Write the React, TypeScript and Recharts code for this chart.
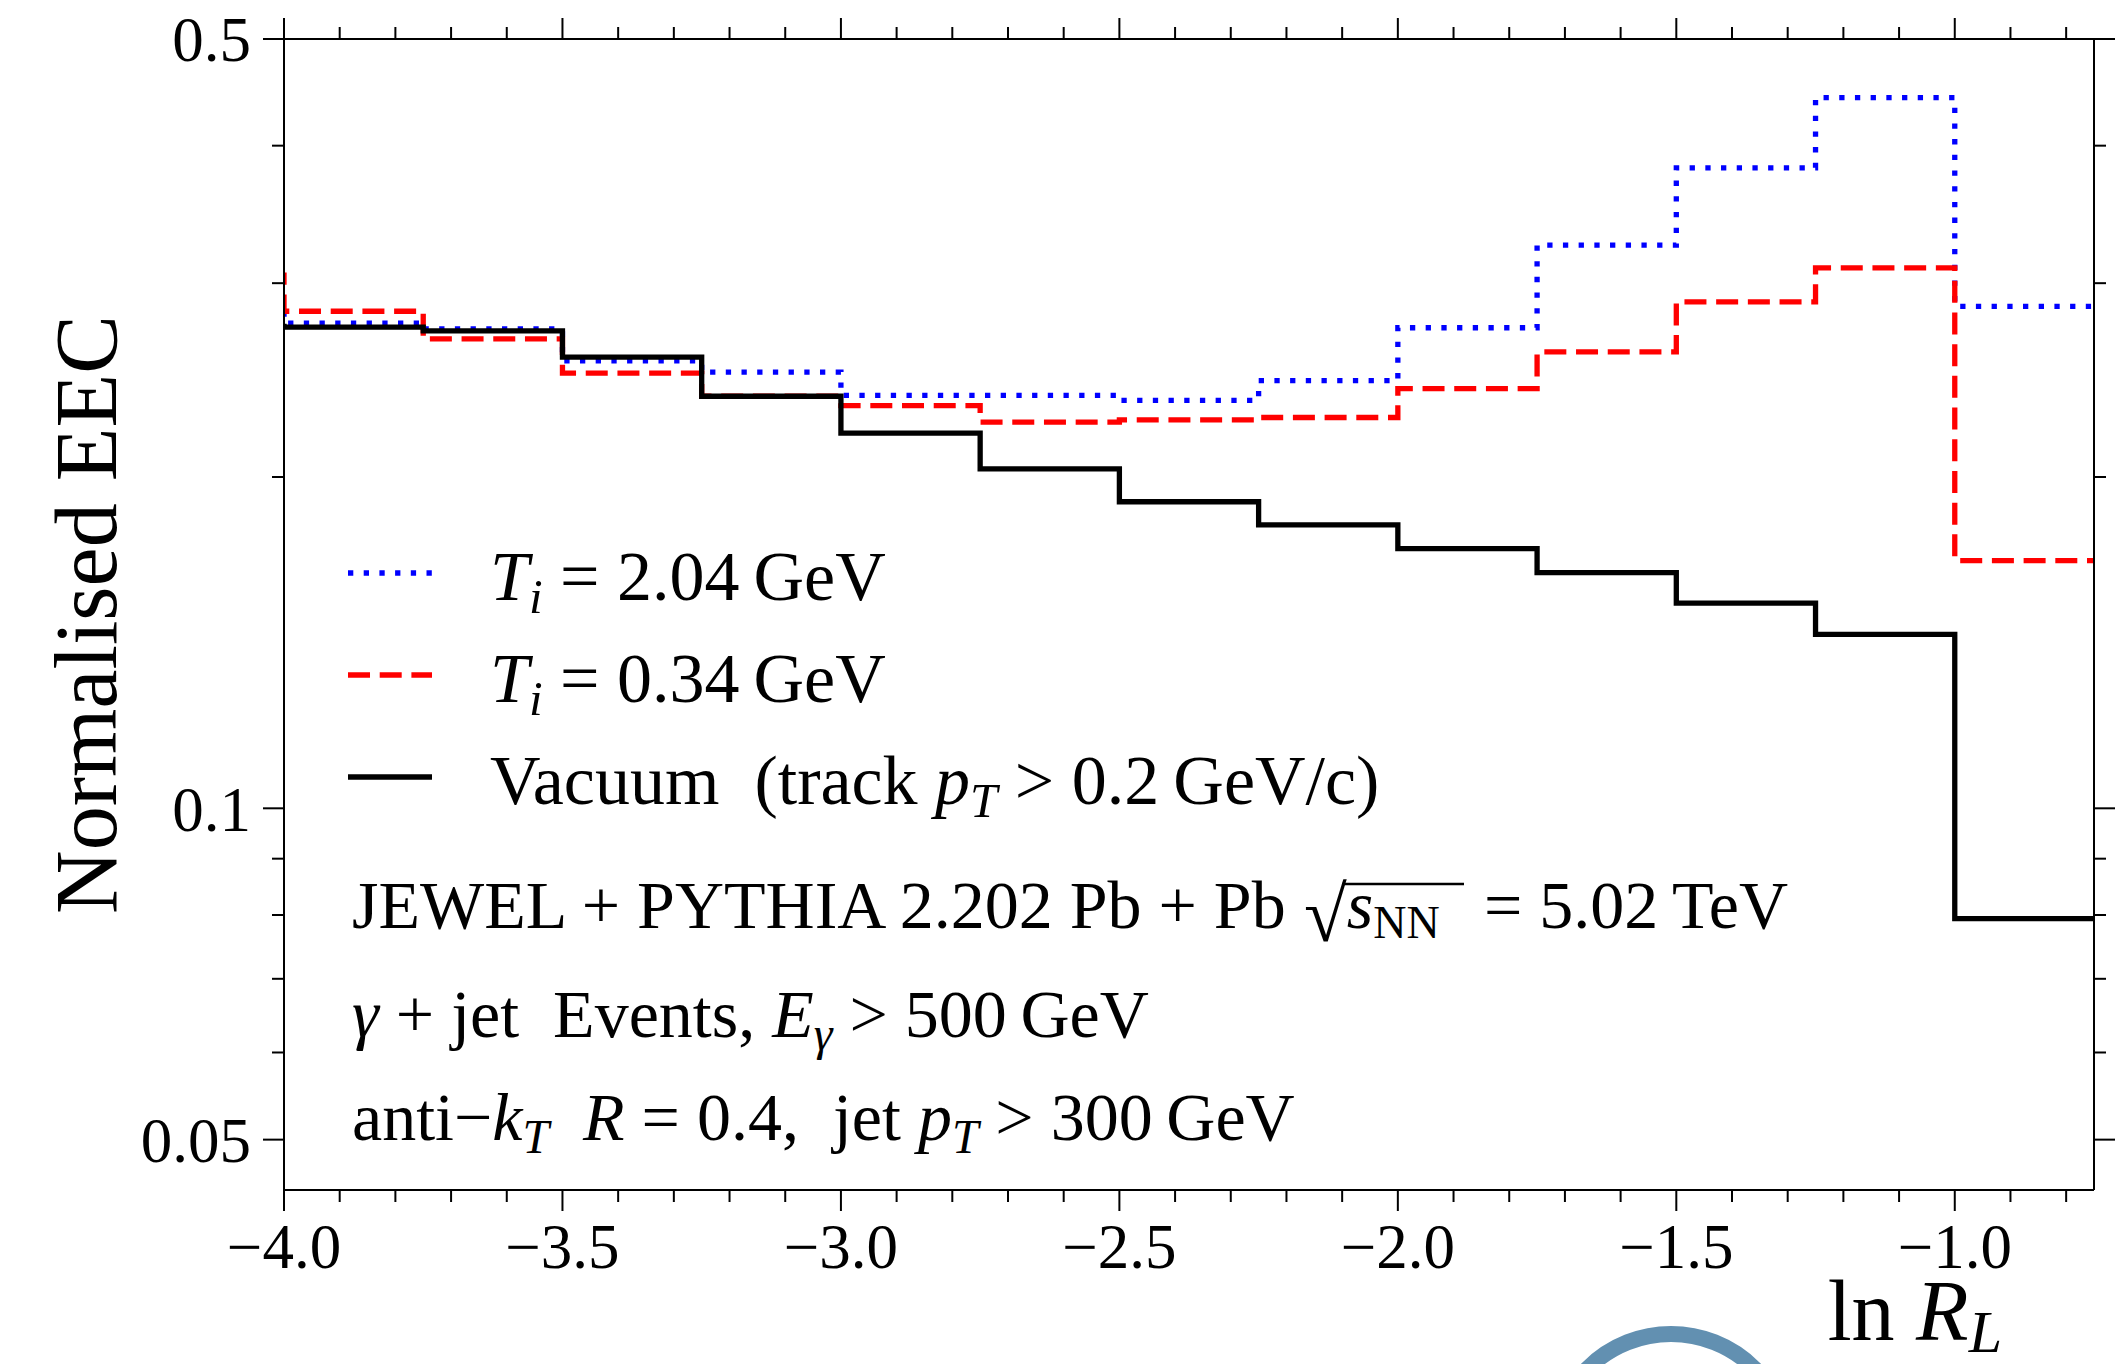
import React from "react";
import { LineChart, Line, XAxis, YAxis, Legend, Customized } from "recharts";

const W = 2127;
const H = 1364;
const FONT = '"Liberation Serif", "DejaVu Serif", serif';

// bin edges in ln R_L; the first edge is left of the frame, only its step shows at x = -4
const lnRL = [-4.25, -4.0, -3.75, -3.5, -3.25, -3.0, -2.75, -2.5, -2.25, -2.0, -1.75, -1.5, -1.25, -1.0, -0.75];

// normalised EEC per bin
const eecT204 = [0.284, 0.276, 0.2726, 0.255, 0.2491, 0.2372, 0.2372, 0.2348, 0.2447, 0.2733, 0.3248, 0.3819, 0.4423, 0.2858];
const eecT034 = [0.305, 0.2829, 0.267, 0.2485, 0.2368, 0.2322, 0.2243, 0.2254, 0.2265, 0.2406, 0.2598, 0.2885, 0.3097, 0.1679];
const eecVacuum = [0.274, 0.2737, 0.2715, 0.257, 0.2368, 0.2192, 0.2034, 0.1899, 0.1809, 0.1722, 0.1637, 0.1536, 0.1439, 0.0794];

const xMajor = [-4, -3.5, -3, -2.5, -2, -1.5, -1];
const xMinor = [
  -3.9, -3.8, -3.7, -3.6, -3.4, -3.3, -3.2, -3.1, -2.9, -2.8, -2.7, -2.6, -2.4,
  -2.3, -2.2, -2.1, -1.9, -1.8, -1.7, -1.6, -1.4, -1.3, -1.2, -1.1, -0.9, -0.8,
];
const yMajor = [0.05, 0.1, 0.5];
const yMinor = [0.06, 0.07, 0.08, 0.09, 0.2, 0.3, 0.4];

const xTicks = [...xMajor, ...xMinor];
const yTicks = [...yMajor, ...yMinor];

const xDomain: [number, number] = [-4, -0.75];
const yDomain: [number, number] = [0.045, 0.5];

const MAJOR = 21;
const MINOR = 12;

// subscript followed by the rest of the line back on the baseline
const sub = (t: string, rest: string, italic = true, shift = 13) => (
  <>
    <tspan fontStyle={italic ? "italic" : "normal"} fontSize="0.7em" dy={shift}>{t}</tspan>
    <tspan dy={-shift}>{rest}</tspan>
  </>
);

const series = [
  {
    key: "t204",
    color: "#0000ff",
    dash: "5.3 10.4" as string | undefined,
    label: (
      <>
        <tspan fontStyle="italic">T</tspan>
        {sub("i", " = 2.04\u2009GeV")}
      </>
    ),
  },
  {
    key: "t034",
    color: "#ff0000",
    dash: "22 9.7" as string | undefined,
    label: (
      <>
        <tspan fontStyle="italic">T</tspan>
        {sub("i", " = 0.34\u2009GeV")}
      </>
    ),
  },
  {
    key: "vac",
    color: "#000000",
    dash: undefined as string | undefined,
    label: (
      <>
        {"Vacuum  (track "}
        <tspan fontStyle="italic">p</tspan>
        {sub("T", " > 0.2\u2009GeV/c)")}
      </>
    ),
  },
];

const data = lnRL.map((x, i) => {
  const j = Math.min(i, eecVacuum.length - 1);
  return { x, t204: eecT204[j], t034: eecT034[j], vac: eecVacuum[j] };
});

const fmtX = (v: number) => (v < 0 ? "\u2212" + Math.abs(v).toFixed(1) : v.toFixed(1));
const labelFont = { fontFamily: FONT, fontSize: 63, fill: "#000" };
const tickPen = { stroke: "#000", strokeWidth: 2 };
const axisPen = { stroke: "#000", strokeWidth: 2 };

function BottomTick({ x, y, payload }: any) {
  const major = xMajor.includes(payload.value);
  return (
    <g>
      <line x1={x} x2={x} y1={y} y2={y + (major ? MAJOR : MINOR)} {...tickPen} />
      {major && (
        <text x={x} y={y + MAJOR + 12} dy="0.71em" textAnchor="middle" {...labelFont}>
          {fmtX(payload.value)}
        </text>
      )}
    </g>
  );
}

function TopTick({ x, y, payload }: any) {
  const major = xMajor.includes(payload.value);
  return <line x1={x} x2={x} y1={y} y2={y - (major ? MAJOR : MINOR)} {...tickPen} />;
}

function LeftTick({ x, y, payload }: any) {
  const major = yMajor.includes(payload.value);
  return (
    <g>
      <line x1={x} x2={x - (major ? MAJOR : MINOR)} y1={y} y2={y} {...tickPen} />
      {major && (
        <text x={x - MAJOR - 12} y={y} dy="0.355em" textAnchor="end" {...labelFont}>
          {String(payload.value)}
        </text>
      )}
    </g>
  );
}

function RightTick({ x, y, payload }: any) {
  const major = yMajor.includes(payload.value);
  return <line x1={x} x2={x + (major ? MAJOR : MINOR)} y1={y} y2={y} {...tickPen} />;
}

function LegendBox() {
  return (
    <svg width={1150} height={300} style={{ display: "block", overflow: "visible" }}>
      {series.map((s, i) => {
        const ly = 43 + i * 102;
        return (
          <g key={s.key}>
            <line
              x1={8}
              x2={92}
              y1={ly}
              y2={ly}
              stroke={s.color}
              strokeWidth={5.3}
              strokeDasharray={s.dash}
              strokeLinecap="butt"
            />
            <text x={150} y={ly + 27} fontFamily={FONT} fontSize={70} fill="#000" xmlSpace="preserve">
              {s.label}
            </text>
          </g>
        );
      })}
    </svg>
  );
}

function XTitle({ viewBox }: any) {
  const vb = viewBox || { x: 284, y: 1190, width: 1810 };
  return (
    <text x={vb.x + vb.width - 92} y={vb.y + 150} textAnchor="end" fontFamily={FONT} fontSize={86} fill="#000">
      <tspan>ln </tspan>
      <tspan fontStyle="italic">R</tspan>
      <tspan fontStyle="italic" fontSize={60} dy={12}>L</tspan>
    </text>
  );
}

function YTitle({ viewBox }: any) {
  const vb = viewBox || { x: 0, y: 39, width: 284, height: 1151 };
  const x = vb.x + vb.width - 168;
  const y = vb.y + vb.height / 2;
  return (
    <text
      x={x}
      y={y}
      textAnchor="middle"
      transform={`rotate(-90 ${x} ${y})`}
      fontFamily={FONT}
      fontSize={88}
      fill="#000"
    >
      Normalised EEC
    </text>
  );
}

function Notes() {
  return (
    <g fontFamily={FONT} fontSize={68} fill="#000">
      <text x={352} y={928} xmlSpace="preserve">{"JEWEL + PYTHIA 2.202 Pb + Pb"}</text>
      <text x={1304} y={928}>
        <tspan fontSize={78} dy={13}>{"\u221a"}</tspan>
        <tspan fontStyle="italic" dy={-13}>s</tspan>
        <tspan fontSize={46} dy={10}>NN</tspan>
      </text>
      <line x1={1342} x2={1464} y1={884} y2={884} stroke="#000" strokeWidth={2.5} />
      <text x={1484} y={928}>{"= 5.02\u2009TeV"}</text>
      <text x={352} y={1037} xmlSpace="preserve">
        <tspan fontStyle="italic">{"\u03b3"}</tspan>
        <tspan>{" + jet  Events, "}</tspan>
        <tspan fontStyle="italic">E</tspan>
        {sub("\u03b3", " > 500\u2009GeV")}
      </text>
      <text x={352} y={1140} xmlSpace="preserve">
        <tspan>{"anti\u2212"}</tspan>
        <tspan fontStyle="italic">k</tspan>
        {sub("T", "  ")}
        <tspan fontStyle="italic">R</tspan>
        <tspan>{" = 0.4,  jet "}</tspan>
        <tspan fontStyle="italic">p</tspan>
        {sub("T", " > 300\u2009GeV")}
      </text>
      <circle cx={1671} cy={1452} r={118} fill="none" stroke="#6290b1" strokeWidth={16} />
    </g>
  );
}

export default function App() {
  return (
    <div style={{ position: "absolute", left: 0, top: 0, width: W, height: H, background: "#fff" }}>
      <LineChart width={W} height={H} data={data} margin={{ top: 38, right: 32, bottom: 0, left: 0 }}>
        <XAxis
          xAxisId="xMain"
          type="number"
          dataKey="x"
          domain={xDomain}
          allowDataOverflow
          ticks={xTicks}
          interval={0}
          height={174}
          tick={<BottomTick />}
          tickSize={0}
          tickMargin={0}
          tickLine={false}
          axisLine={axisPen}
          label={<XTitle />}
        />
        <XAxis
          xAxisId="xTop"
          orientation="top"
          type="number"
          dataKey="x"
          domain={xDomain}
          allowDataOverflow
          ticks={xTicks}
          interval={0}
          height={1}
          tick={<TopTick />}
          tickSize={0}
          tickMargin={0}
          tickLine={false}
          axisLine={axisPen}
        />
        <YAxis
          yAxisId="yMain"
          scale="log"
          type="number"
          domain={yDomain}
          allowDataOverflow
          ticks={yTicks}
          interval={0}
          width={284}
          tick={<LeftTick />}
          tickSize={0}
          tickMargin={0}
          tickLine={false}
          axisLine={axisPen}
          label={<YTitle />}
        />
        <YAxis
          yAxisId="yRight"
          orientation="right"
          scale="log"
          type="number"
          domain={yDomain}
          allowDataOverflow
          ticks={yTicks}
          interval={0}
          width={1}
          tick={<RightTick />}
          tickSize={0}
          tickMargin={0}
          tickLine={false}
          axisLine={axisPen}
        />

        {series.map((s) => (
          <Line
            key={s.key}
            xAxisId="xMain"
            yAxisId="yMain"
            type="stepAfter"
            dataKey={s.key}
            stroke={s.color}
            strokeWidth={5.3}
            strokeDasharray={s.dash}
            strokeLinecap="butt"
            dot={false}
            activeDot={false}
            isAnimationActive={false}
          />
        ))}

        <Legend
          layout="vertical"
          align="center"
          verticalAlign="middle"
          content={<LegendBox />}
          wrapperStyle={{ left: 340, top: 530, width: 1150, height: 300 }}
        />
        <Customized component={<Notes />} />
      </LineChart>
    </div>
  );
}
